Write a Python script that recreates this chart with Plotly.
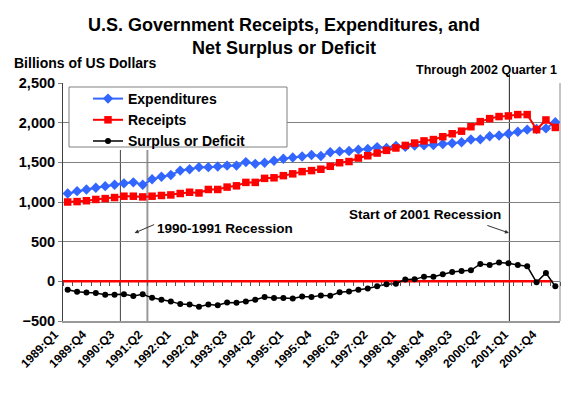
import plotly.graph_objects as go

# ---------------- data ----------------
quarters = [f"{y}:Q{q}" for y in range(1989, 2002) for q in range(1, 5)] + ["2002:Q1"]

expenditures = [1107, 1137, 1158, 1179, 1200, 1217, 1235, 1248, 1217, 1286,
                1319, 1341, 1396, 1413, 1439, 1439, 1447, 1459, 1459, 1503,
                1481, 1494, 1520, 1545, 1561, 1574, 1592, 1580, 1628, 1638,
                1642, 1660, 1669, 1692, 1681, 1708, 1695, 1712, 1715, 1718,
                1732, 1740, 1753, 1787, 1790, 1829, 1838, 1860, 1885, 1912,
                1920, 1928, 2005]

receipts = [1000, 1005, 1016, 1032, 1043, 1056, 1073, 1073, 1064, 1073,
            1082, 1089, 1107, 1123, 1114, 1158, 1158, 1188, 1204, 1247,
            1247, 1298, 1305, 1332, 1355, 1383, 1396, 1413, 1450, 1495,
            1510, 1554, 1583, 1617, 1651, 1681, 1713, 1743, 1770, 1787,
            1823, 1860, 1893, 1949, 2013, 2051, 2077, 2085, 2102, 2102,
            1912, 2034, 1940]

surplus = [-105, -130, -141, -148, -170, -170, -164, -185, -164, -208,
           -232, -253, -287, -293, -320, -293, -300, -266, -270, -253,
           -232, -199, -211, -211, -215, -190, -196, -177, -181, -139,
           -127, -105, -89, -63, -38, -29, 22, 25, 59, 59,
           89, 118, 130, 139, 219, 206, 236, 228, 206, 190,
           -13, 105, -63]

tick_labels = quarters[:52:3]

FONT = "Liberation Sans, Arial, sans-serif"

# plot area in pixels
L, R, T, B = 63, 560, 83, 321
W, H = R - L, B - T


def px_x(x):
    return (x - L) / W


def px_y(y):
    return (B - y) / H


fig = go.Figure()

fig.add_trace(go.Scatter(
    x=quarters, y=expenditures, name="Expenditures", mode="lines+markers",
    line=dict(color="#3366FF", width=2),
    marker=dict(symbol="diamond", size=8, color="#3366FF")))
fig.add_trace(go.Scatter(
    x=quarters, y=receipts, name="Receipts", mode="lines+markers",
    line=dict(color="#FF0000", width=2),
    marker=dict(symbol="square", size=7.5, color="#FF0000")))
fig.add_trace(go.Scatter(
    x=quarters, y=surplus, name="Surplus or Deficit", mode="lines+markers",
    line=dict(color="#000000", width=1.5),
    marker=dict(symbol="circle", size=6, color="#000000")))
# helper trace (invisible) for the zero-crossing category axis (ticks only)
fig.add_trace(go.Scatter(
    x=quarters, y=surplus, xaxis="x2", showlegend=False,
    hoverinfo="skip", mode="markers", marker=dict(opacity=0)))

shapes = []
# legend box
shapes.append(dict(type="rect", xref="paper", yref="paper",
                   x0=px_x(69), x1=px_x(287), y0=px_y(147), y1=px_y(87),
                   fillcolor="white", line=dict(color="#808080", width=1),
                   layer="above"))
# zero line
shapes.append(dict(type="line", xref="x", yref="y", x0=-0.5, x1=51.7, y0=0, y1=0,
                   line=dict(color="#FF0000", width=2.5), layer="between"))
# recession lines
shapes.append(dict(type="line", xref="x", yref="paper", x0=5.62, x1=5.62,
                   y0=0, y1=px_y(150), line=dict(color="#404040", width=1),
                   layer="between"))
shapes.append(dict(type="line", xref="x", yref="paper", x0=8.5, x1=8.5,
                   y0=0, y1=px_y(150), line=dict(color="#999999", width=2),
                   layer="between"))
shapes.append(dict(type="line", xref="x", yref="paper", x0=47.1, x1=47.1,
                   y0=0, y1=1, line=dict(color="#202020", width=1),
                   layer="between"))
shapes.append(dict(type="line", xref="x", yref="paper", x0=47.1, x1=47.1,
                   y0=1, y1=px_y(74), line=dict(color="#202020", width=1),
                   layer="above"))
# right border
shapes.append(dict(type="line", xref="paper", yref="paper", x0=1, x1=1,
                   y0=0, y1=1, line=dict(color="#B0B0B0", width=1.5),
                   layer="between"))

annotations = [
    dict(text="Billions of US Dollars", xref="paper", yref="paper",
         x=px_x(12), y=px_y(63), xanchor="left", yanchor="middle",
         showarrow=False, font=dict(family=FONT, size=14, color="black", weight="bold")),
    dict(text="Through 2002 Quarter 1", xref="paper", yref="paper",
         x=px_x(559), y=px_y(70), xanchor="right", yanchor="middle",
         showarrow=False, font=dict(family=FONT, size=12.5, color="black", weight="bold")),
    dict(text="1990-1991 Recession", xref="x", yref="y",
         x=16.8, y=660, xanchor="center", yanchor="middle",
         showarrow=False, font=dict(family=FONT, size=13.5, color="black", weight="bold")),
    dict(text="", xref="x", yref="y", x=7.14, y=610, ax=21, ay=-9,
         showarrow=True, arrowhead=2, arrowsize=0.8, arrowwidth=1, arrowcolor="#333"),
    dict(text="Start of 2001 Recession", xref="x", yref="y",
         x=38.06, y=838, xanchor="center", yanchor="middle",
         showarrow=False, font=dict(family=FONT, size=13.5, color="black", weight="bold")),
    dict(text="", xref="x", yref="y", x=47.05, y=610, ax=-23, ay=-8,
         showarrow=True, arrowhead=2, arrowsize=0.8, arrowwidth=1, arrowcolor="#333"),
]

fig.update_layout(
    width=580, height=396,
    margin=dict(l=L, r=580 - R, t=T, b=396 - B, autoexpand=False),
    paper_bgcolor="white", plot_bgcolor="white",
    font=dict(family=FONT, color="black"),
    title=dict(text="U.S. Government Receipts, Expenditures, and<br>Net Surplus or Deficit",
               x=284 / 580, xanchor="center",
               y=1 - 31 / 396, yanchor="middle", yref="container",
               font=dict(family=FONT, size=18, color="black", weight="bold")),
    showlegend=True,
    legend=dict(x=px_x(88), y=px_y(83), xanchor="left", yanchor="top",
                bgcolor="rgba(0,0,0,0)", borderwidth=0,
                font=dict(family=FONT, size=14, color="black", weight="bold"),
                itemwidth=30, tracegroupgap=0),
    xaxis=dict(type="category", range=[-0.5, 52.5], showgrid=False,
               tickmode="array", tickvals=tick_labels, ticktext=tick_labels,
               tickangle=-45, ticks="", showline=True, linecolor="#999999",
               linewidth=1.5, mirror=False, zeroline=False, automargin=False,
               ticklabelshift=-13,
               tickfont=dict(family=FONT, size=12, color="black", weight="bold")),
    xaxis2=dict(type="category", overlaying="x", anchor="free", position=1 / 6,
                range=[-0.5, 52.5], showgrid=False, showticklabels=False,
                ticks="outside", ticklen=4, tickcolor="#555555", tickwidth=1,
                tickson="boundaries", dtick=1, showline=False, zeroline=False),
    yaxis=dict(range=[-500, 2500], dtick=500, tickformat=",d",
               showgrid=True, gridcolor="#808080", gridwidth=1,
               showline=True, linecolor="#404040", linewidth=1,
               ticks="outside", ticklen=4, tickcolor="#808080",
               zeroline=False, automargin=False,
               tickfont=dict(family=FONT, size=14.5, color="black", weight="bold")),
    shapes=shapes,
    annotations=annotations,
)

fig.write_html("out.html", config={"displayModeBar": False},
               post_script="document.body.style.margin='0';")
